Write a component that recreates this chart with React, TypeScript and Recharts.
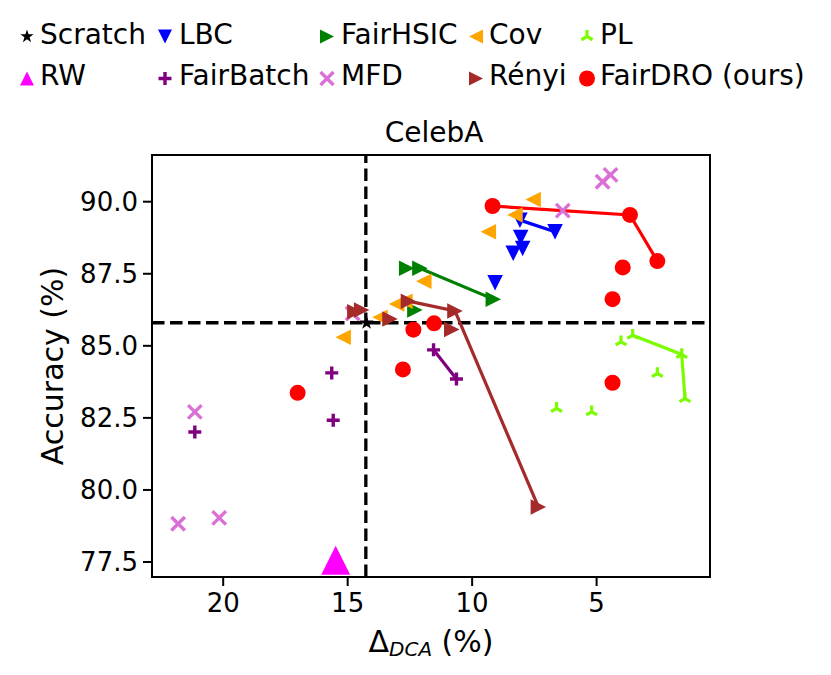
import React from "react";
import {
  ReferenceArea,
  ReferenceLine,
  Scatter,
  ScatterChart,
  XAxis,
  YAxis,
} from "recharts";

type Pt = { x: number; y: number };

// values (x = Δ_DCA %, y = accuracy %)
const scratch: Pt[] = [{ x: 14.24, y: 85.8 }];
const lbcLine: Pt[] = [
  { x: 8.08, y: 89.36 },
  { x: 6.67, y: 88.96 },
];
const lbcPts: Pt[] = [
  { x: 8.05, y: 88.76 },
  { x: 7.97, y: 88.38 },
  { x: 8.35, y: 88.21 },
  { x: 9.08, y: 87.19 },
];
const fairhsicLine: Pt[] = [
  { x: 12.1, y: 87.69 },
  { x: 9.15, y: 86.62 },
];
const fairhsicPts: Pt[] = [
  { x: 12.63, y: 87.69 },
  { x: 12.3, y: 86.24 },
];
const covPts: Pt[] = [
  { x: 11.94, y: 87.24 },
  { x: 13.03, y: 86.45 },
  { x: 12.7, y: 86.55 },
  { x: 13.7, y: 85.99 },
  { x: 15.18, y: 85.3 },
  { x: 7.55, y: 90.08 },
  { x: 8.28, y: 89.54 },
  { x: 9.35, y: 88.96 },
];
const plLine: Pt[] = [
  { x: 3.55, y: 85.37 },
  { x: 1.58, y: 84.7 },
  { x: 1.45, y: 83.17 },
];
const plPts: Pt[] = [
  { x: 4.02, y: 85.14 },
  { x: 2.56, y: 84.04 },
  { x: 6.61, y: 82.83 },
  { x: 5.2, y: 82.71 },
];
const rw: Pt[] = [{ x: 15.48, y: 77.56 }];
const fairbatchLine: Pt[] = [
  { x: 11.55, y: 84.86 },
  { x: 10.63, y: 83.85 },
];
const fairbatchPts: Pt[] = [
  { x: 15.64, y: 84.06 },
  { x: 15.58, y: 82.42 },
  { x: 21.14, y: 82.01 },
];
const mfdPts: Pt[] = [
  { x: 4.76, y: 90.69 },
  { x: 4.44, y: 90.93 },
  { x: 6.36, y: 89.69 },
  { x: 21.14, y: 82.71 },
  { x: 21.81, y: 78.83 },
  { x: 20.16, y: 79.03 },
  { x: 14.8, y: 86.12 },
];
const renyiLine: Pt[] = [
  { x: 12.56, y: 86.55 },
  { x: 10.69, y: 86.21 },
  { x: 7.34, y: 79.41 },
];
const renyiPts: Pt[] = [
  { x: 14.71, y: 86.18 },
  { x: 14.44, y: 86.24 },
  { x: 13.3, y: 85.93 },
  { x: 10.82, y: 85.57 },
];
const fairdroLine: Pt[] = [
  { x: 9.18, y: 89.85 },
  { x: 3.66, y: 89.54 },
  { x: 2.56, y: 87.94 },
];
const fairdroPts: Pt[] = [
  { x: 12.36, y: 85.56 },
  { x: 11.53, y: 85.78 },
  { x: 12.78, y: 84.18 },
  { x: 17.01, y: 83.37 },
  { x: 3.95, y: 87.72 },
  { x: 4.36, y: 86.62 },
  { x: 4.36, y: 83.72 },
];

const xTicks = [5, 10, 15, 20];
const yTicks = [77.5, 80, 82.5, 85, 87.5, 90];
const xDomain: [number, number] = [0.445, 22.86];
const yDomain: [number, number] = [76.98, 91.62];
const baseX = 14.27;
const baseY = 85.8;

const FONT = "'DejaVu Sans', sans-serif";

type Kind =
  | "star"
  | "tdown"
  | "tup"
  | "tright"
  | "tleft"
  | "circle"
  | "plus"
  | "x"
  | "tri";

const Marker = ({
  kind,
  cx,
  cy,
  size,
  color,
}: {
  kind: Kind;
  cx: number;
  cy: number;
  size: number;
  color: string;
}) => {
  const r = size / 2;
  const poly = (p: number[][]) => (
    <polygon
      points={p.map(([a, b]) => `${cx + a},${cy + b}`).join(" ")}
      fill={color}
    />
  );
  switch (kind) {
    case "star": {
      const pts: number[][] = [];
      for (let i = 0; i < 10; i++) {
        const rad = i % 2 === 0 ? r : r * 0.382;
        const ang = -Math.PI / 2 + (i * Math.PI) / 5;
        pts.push([rad * Math.cos(ang), rad * Math.sin(ang)]);
      }
      return poly(pts);
    }
    case "tdown":
      return poly([
        [-r, -r],
        [r, -r],
        [0, r],
      ]);
    case "tup":
      return poly([
        [0, -r],
        [-r, r],
        [r, r],
      ]);
    case "tright":
      return poly([
        [-r, -r],
        [-r, r],
        [r, 0],
      ]);
    case "tleft":
      return poly([
        [r, -r],
        [r, r],
        [-r, 0],
      ]);
    case "circle":
      return <circle cx={cx} cy={cy} r={r} fill={color} />;
    case "plus":
      return (
        <path
          d={`M${cx - r},${cy}H${cx + r}M${cx},${cy - r}V${cy + r}`}
          stroke={color}
          strokeWidth={3.4}
        />
      );
    case "x":
      return (
        <path
          d={`M${cx - r},${cy - r}L${cx + r},${cy + r}M${cx - r},${cy + r}L${cx + r},${cy - r}`}
          stroke={color}
          strokeWidth={3.4}
        />
      );
    case "tri":
    default:
      return (
        <path
          d={`M${cx},${cy}V${cy - r}M${cx},${cy}L${cx - r * 0.866},${cy + r * 0.5}M${cx},${cy}L${cx + r * 0.866},${cy + r * 0.5}`}
          stroke={color}
          strokeWidth={3.2}
        />
      );
  }
};

const shape =
  (kind: Kind, size: number, color: string) =>
  (props: { cx?: number; cy?: number }) =>
    (
      <Marker
        kind={kind}
        cx={props.cx ?? 0}
        cy={props.cy ?? 0}
        size={size}
        color={color}
      />
    );

const legendItems: {
  name: string;
  kind: Kind;
  color: string;
  size: number;
  mx: number;
  tx: number;
  row: number;
}[] = [
  { name: "Scratch", kind: "star", color: "#000000", size: 14, mx: 27, tx: 40, row: 0 },
  { name: "LBC", kind: "tdown", color: "#0000ff", size: 14, mx: 165, tx: 179, row: 0 },
  { name: "FairHSIC", kind: "tright", color: "#008000", size: 14, mx: 327, tx: 341, row: 0 },
  { name: "Cov", kind: "tleft", color: "#ffa500", size: 14, mx: 476, tx: 489, row: 0 },
  { name: "PL", kind: "tri", color: "#7cfc00", size: 13, mx: 587, tx: 600, row: 0 },
  { name: "RW", kind: "tup", color: "#ff00ff", size: 14, mx: 27, tx: 40, row: 1 },
  { name: "FairBatch", kind: "plus", color: "#800080", size: 13, mx: 165, tx: 179, row: 1 },
  { name: "MFD", kind: "x", color: "#da70d6", size: 13, mx: 327, tx: 341, row: 1 },
  { name: "Rényi", kind: "tright", color: "#a52a2a", size: 14, mx: 476, tx: 489, row: 1 },
  { name: "FairDRO (ours)", kind: "circle", color: "#ff0000", size: 16, mx: 587, tx: 600, row: 1 },
];

const lineStyle = (c: string) => ({ stroke: c, strokeWidth: 3.2 });

export default function App() {
  return (
    <div
      style={{
        position: "absolute",
        left: 0,
        top: 0,
        width: 831,
        height: 675,
        background: "#fff",
        fontFamily: FONT,
      }}
    >
      <ScatterChart
        width={831}
        height={675}
        margin={{ top: 155, right: 121, bottom: 38, left: 72 }}
      >
        <XAxis
          type="number"
          dataKey="x"
          domain={xDomain}
          ticks={xTicks}
          reversed
          allowDataOverflow
          interval={0}
          height={60}
          tickSize={9}
          tickMargin={8}
          tick={{ fontSize: 26, fill: "#000", fontFamily: FONT }}
          tickLine={{ stroke: "#000", strokeWidth: 2 }}
          axisLine={{ stroke: "#000", strokeWidth: 2 }}
        />
        <YAxis
          type="number"
          dataKey="y"
          domain={yDomain}
          ticks={yTicks}
          allowDataOverflow
          interval={0}
          width={80}
          tickSize={9}
          tickMargin={5}
          tickFormatter={(v: number) => v.toFixed(1)}
          tick={{ fontSize: 26, fill: "#000", fontFamily: FONT }}
          tickLine={{ stroke: "#000", strokeWidth: 2 }}
          axisLine={{ stroke: "#000", strokeWidth: 2 }}
        />
        <ReferenceArea
          x1={xDomain[0]}
          x2={xDomain[1]}
          y1={yDomain[0]}
          y2={yDomain[1]}
          fill="none"
          stroke="#000"
          strokeWidth={2}
          fillOpacity={0}
        />
        <ReferenceLine
          x={baseX}
          stroke="#000"
          strokeWidth={3.3}
          strokeDasharray="12.5 5.5"
        />
        <ReferenceLine
          y={baseY}
          stroke="#000"
          strokeWidth={3.3}
          strokeDasharray="12.5 5.5"
        />

        <Scatter data={fairdroLine} line={lineStyle("#ff0000")} shape={shape("circle", 16, "#ff0000")} isAnimationActive={false} />
        <Scatter data={fairdroPts} shape={shape("circle", 16, "#ff0000")} isAnimationActive={false} />
        <Scatter data={lbcLine} line={lineStyle("#0000ff")} shape={shape("tdown", 15.5, "#0000ff")} isAnimationActive={false} />
        <Scatter data={lbcPts} shape={shape("tdown", 15.5, "#0000ff")} isAnimationActive={false} />
        <Scatter data={fairhsicLine} line={lineStyle("#008000")} shape={shape("tright", 15.5, "#008000")} isAnimationActive={false} />
        <Scatter data={fairhsicPts} shape={shape("tright", 15.5, "#008000")} isAnimationActive={false} />
        <Scatter data={covPts} shape={shape("tleft", 15.5, "#ffa500")} isAnimationActive={false} />
        <Scatter data={plLine} line={lineStyle("#7cfc00")} shape={shape("tri", 12.5, "#7cfc00")} isAnimationActive={false} />
        <Scatter data={plPts} shape={shape("tri", 12.5, "#7cfc00")} isAnimationActive={false} />
        <Scatter data={rw} shape={shape("tup", 29, "#ff00ff")} isAnimationActive={false} />
        <Scatter data={fairbatchLine} line={lineStyle("#800080")} shape={shape("plus", 13, "#800080")} isAnimationActive={false} />
        <Scatter data={fairbatchPts} shape={shape("plus", 13, "#800080")} isAnimationActive={false} />
        <Scatter data={mfdPts} shape={shape("x", 13.5, "#da70d6")} isAnimationActive={false} />
        <Scatter data={renyiLine} line={lineStyle("#a52a2a")} shape={shape("tright", 15.5, "#a52a2a")} isAnimationActive={false} />
        <Scatter data={renyiPts} shape={shape("tright", 15.5, "#a52a2a")} isAnimationActive={false} />
        <Scatter data={scratch} shape={shape("star", 15, "#000000")} isAnimationActive={false} />
      </ScatterChart>

      <svg
        width={831}
        height={675}
        style={{ position: "absolute", left: 0, top: 0, pointerEvents: "none" }}
        fontFamily={FONT}
      >
        <text x={434} y={142.3} fontSize={28} textAnchor="middle" fill="#000">
          CelebA
        </text>
        <text x={431} y={651.7} fontSize={30} textAnchor="middle" fill="#000">
          Δ
          <tspan fontSize={20} fontStyle="italic" dy={4}>
            DCA
          </tspan>
          <tspan dy={-4}> (%)</tspan>
        </text>
        <text
          x={63}
          y={366}
          fontSize={30}
          textAnchor="middle"
          fill="#000"
          transform="rotate(-90 63 366)"
        >
          Accuracy (%)
        </text>
        {legendItems.map((it) => {
          const base = it.row === 0 ? 43.5 : 85;
          const my = it.row === 0 ? 36.5 : 78.5;
          return (
            <g key={it.name}>
              <Marker kind={it.kind} cx={it.mx} cy={my} size={it.size} color={it.color} />
              <text x={it.tx} y={base} fontSize={28} fill="#000">
                {it.name}
              </text>
            </g>
          );
        })}
      </svg>
    </div>
  );
}
